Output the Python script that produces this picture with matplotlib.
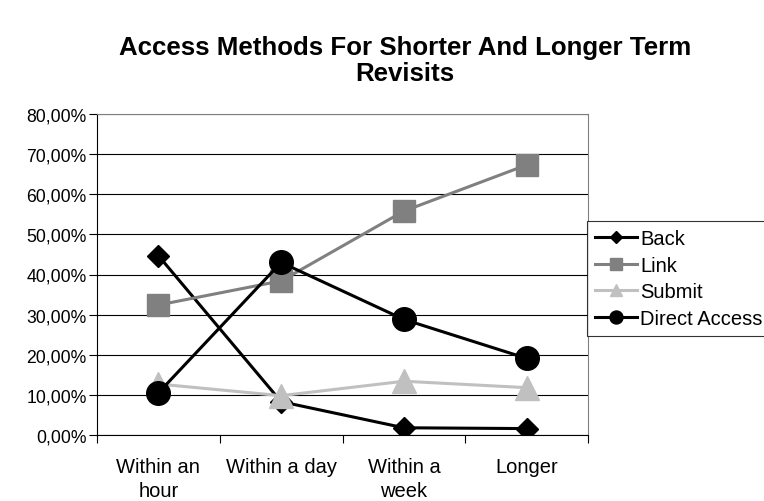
import matplotlib.pyplot as plt
from matplotlib.ticker import FuncFormatter

plt.rcParams['font.family'] = ['Liberation Sans', 'DejaVu Sans']

# access shares per revisit period (fractions)
categories = ['Within an\nhour', 'Within a day', 'Within a\nweek', 'Longer']
back = [0.447, 0.083, 0.018, 0.016]
link = [0.324, 0.384, 0.558, 0.673]
submit = [0.127, 0.098, 0.134, 0.118]
direct_access = [0.105, 0.430, 0.288, 0.191]

fig = plt.figure(figsize=(7.64, 5.02), dpi=100)
ax = fig.add_axes([97 / 764, 66 / 502, 491 / 764, 321 / 502])

x = list(range(len(categories)))
ax.plot(x, back, color='black', lw=2.2, marker='D', ms=11.5, label='Back', zorder=3)
ax.plot(x, link, color='#808080', lw=2.2, marker='s', ms=16.5, label='Link', zorder=3)
ax.plot(x, submit, color='#c0c0c0', lw=2.2, marker='^', ms=17, label='Submit', zorder=3)
ax.plot(x, direct_access, color='black', lw=2.2, marker='o', ms=17, label='Direct Access', zorder=3)

ax.set_xlim(-0.5, len(categories) - 0.5)
ax.set_ylim(0, 0.8)
ax.set_yticks([i / 10 for i in range(9)])
ax.yaxis.set_major_formatter(FuncFormatter(lambda v, p: f'{v * 100:.2f}%'.replace('.', ',')))
ax.grid(axis='y', color='black', lw=0.8)
ax.set_axisbelow(True)

# category labels sit between the boundary ticks
ax.set_xticks([i - 0.5 for i in range(len(categories) + 1)])
ax.set_xticklabels([])
ax.set_xticks(x, minor=True)
ax.set_xticklabels(categories, minor=True, fontsize=14.5, linespacing=1.3)
ax.tick_params(axis='x', which='minor', length=0, pad=16)
ax.tick_params(axis='x', which='major', length=6, width=0.8, direction='out')
ax.tick_params(axis='y', length=6, width=0.8, direction='out', labelsize=12.7, pad=1.5)

for s in ['top', 'right']:
    ax.spines[s].set_color('#808080')
    ax.spines[s].set_linewidth(0.8)
for s in ['left', 'bottom']:
    ax.spines[s].set_color('black')
    ax.spines[s].set_linewidth(0.8)

leg = fig.legend(loc='upper left', bbox_to_anchor=(587 / 764, 1 - 222 / 502),
                 fontsize=14.5, frameon=True, fancybox=False, edgecolor='black',
                 handlelength=2.1, handletextpad=0.15, borderpad=0.4, labelspacing=0.38,
                 markerscale=0.55, borderaxespad=0)
leg.get_frame().set_linewidth(0.8)

fig.text(405 / 764, 1 - 61 / 502, 'Access Methods For Shorter And Longer Term\nRevisits',
         ha='center', va='center', fontsize=18.6, fontweight='bold', linespacing=1.13)

fig.savefig('out.png', dpi=100)
